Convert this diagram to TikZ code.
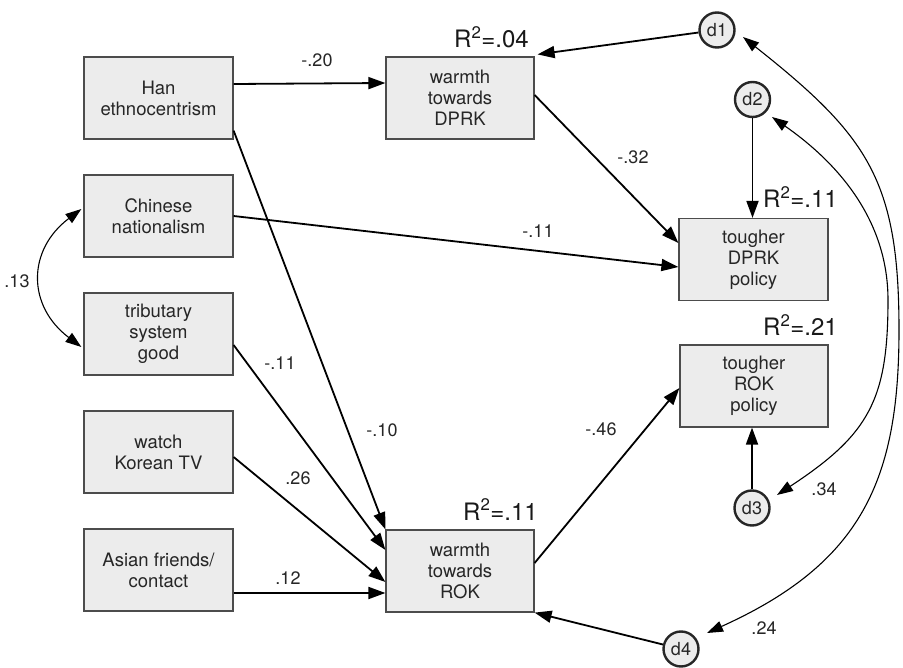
\documentclass[tikz,border=0pt]{standalone}
\usepackage{fontspec}
\setmainfont{TeX Gyre Heros}
\usetikzlibrary{arrows.meta,calc}
\begin{document}
\begin{tikzpicture}[x=1pt,y=-1pt,
  box/.style={draw=black!70, line width=1.2pt, fill=gray!15, minimum width=149pt, minimum height=82pt, inner sep=0pt, align=center, font=\fontsize{18.5}{21}\selectfont, text=black!85},
  dcirc/.style={circle, draw=black!85, line width=2.4pt, fill=gray!15, minimum size=35pt, inner sep=0pt, font=\fontsize{18}{21}\selectfont, text=black!85},
  arr/.style={line width=1.8pt, -{Triangle[length=17pt,width=12pt]}},
  cov/.style={line width=1.1pt, {Triangle[length=16pt,width=11pt]}-{Triangle[length=16pt,width=11pt]}},
  lab/.style={font=\fontsize{18}{21}\selectfont, inner sep=0pt, text=black!85},
  rsq/.style={font=\fontsize{24}{28}\selectfont, inner sep=0pt, anchor=base west, text=black!90}
]
\useasboundingbox (0,0) rectangle (903,668);
\fill[white] (0,0) rectangle (903,668);

% exogenous boxes
\node[box] (han) at (158.5,98) {Han\\ethnocentrism};
\node[box] (chn) at (158.5,216) {Chinese\\nationalism};
\node[box] (trib) at (158.5,334) {tributary\\system\\good};
\node[box] (tv) at (158.5,452) {watch\\Korean TV};
\node[box] (asia) at (158.5,570) {Asian friends/\\contact};

% endogenous boxes
\node[box, minimum width=148pt] (wdprk) at (460,98) {warmth\\towards\\DPRK};
\node[box, minimum width=148pt] (wrok) at (460,571) {warmth\\towards\\ROK};
\node[box] (tdprk) at (753.5,259.5) {tougher\\DPRK\\policy};
\node[box, minimum width=148pt] (trok) at (754,386) {tougher\\ROK\\policy};

% disturbances
\node[dcirc] (d1) at (717,30) {d1};
\node[dcirc] (d2) at (752.5,99.5) {d2};
\node[dcirc] (d3) at (752,508) {d3};
\node[dcirc] (d4) at (681,649) {d4};

% R squared
\node[rsq] (r1) at (454,48) {R\textsuperscript{2}=.04};
\node[rsq] (r2) at (763,208) {R\textsuperscript{2}=.11};
\node[rsq] (r3) at (763,336) {R\textsuperscript{2}=.21};
\node[rsq] (r4) at (463,520) {R\textsuperscript{2}=.11};

% paths
\draw[arr] ([yshift=14pt]han.east) -- ([yshift=15pt]wdprk.west);
\draw[arr] ([yshift=9pt]han.south east) -- (wrok.north west);
\draw[arr] (chn.east) -- ([yshift=-7.5pt]tdprk.west);
\draw[arr] ([yshift=-11pt]trib.east) -- ([yshift=21pt]wrok.west);
\draw[arr] ([yshift=-5pt]tv.east) -- ([yshift=-11pt]wrok.west);
\draw[arr] ([yshift=-23pt]asia.east) -- ([yshift=-22pt]wrok.west);
\draw[arr] ([yshift=3pt]wdprk.east) -- ([yshift=16.5pt]tdprk.west);
\draw[arr] ([yshift=8pt]wrok.east) -- ([yshift=-2pt]trok.west);
\draw[arr] (d1) -- ([xshift=3pt,yshift=2pt]wdprk.north east);
\draw[arr] (d2) -- (d2 |- tdprk.north);
\draw[arr] (d3) -- (d3 |- trok.south);
\draw[arr] (d4) -- (wrok.south east);

% covariances
\coordinate (c14) at (899,330);
\coordinate (c23) at (888,300);
\draw[cov] ($(d1)+(26,7)$) .. controls (868,136) and (899,180) .. (c14)
  .. controls (899,480) and (862,563) .. ($(d4)+(26,-16)$);
\draw[cov] ($(d2)+(19.5,17.5)$) .. controls (838,163) and (888,220) .. (c23)
  .. controls (888,400) and (869,434.5) .. ($(d3)+(25,-13)$);
\draw[cov] ($(chn.west)+(-2,-7)$) .. controls (27,250) and (27,306) .. ($(trib.west)+(-2,13)$);

% coefficients
\node[lab] (l1) at (317,60) {-.20};
\node[lab] (l2) at (633,157) {-.32};
\node[lab] (l3) at (538,231) {-.11};
\node[lab] (l4) at (280,363) {-.11};
\node[lab] (l5) at (382,430) {-.10};
\node[lab] (l6) at (298,478) {.26};
\node[lab] (l7) at (288,578) {.12};
\node[lab] (l8) at (601,429) {-.46};
\node[lab] (l9) at (824,489) {.34};
\node[lab] (l10) at (764,628) {.24};
\node[lab] (l11) at (17,281) {.13};
\end{tikzpicture}
\end{document}
